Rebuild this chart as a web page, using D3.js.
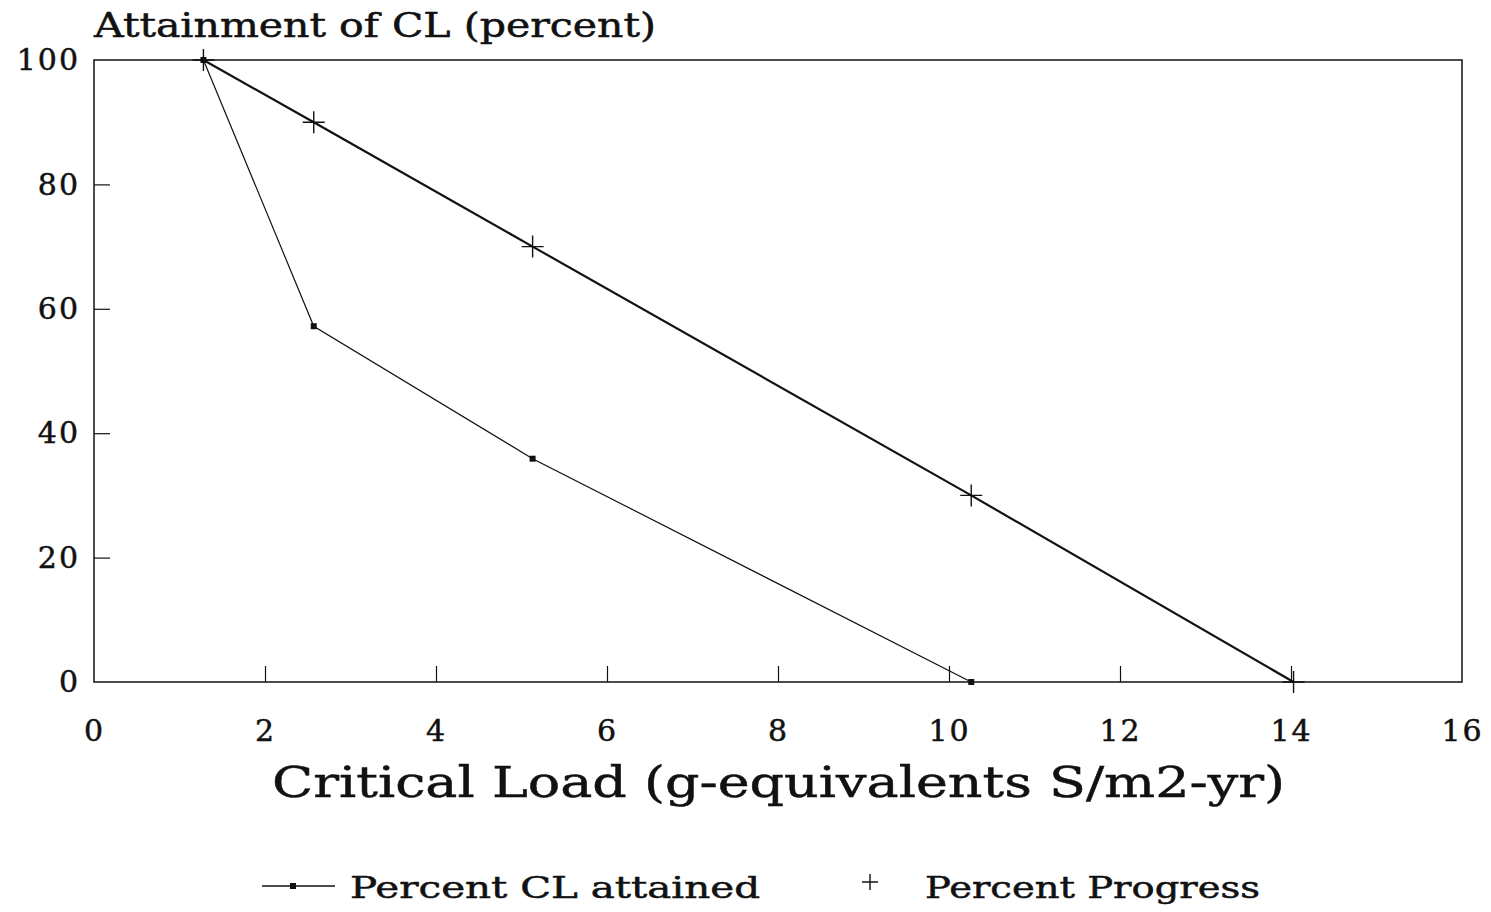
<!DOCTYPE html>
<html>
<head>
<meta charset="utf-8">
<script src="https://cdn.jsdelivr.net/npm/d3@7"></script>
<style>
  body { margin: 0; background: #fff; }
  text { font-family: "DejaVu Serif", serif; fill: #111; stroke: #111; stroke-width: 0.5px; }
</style>
</head>
<body>
<svg id="chart" width="1491" height="912"></svg>
<script>
// critical load (x) and percent values
const clLoads = [1.28, 2.57, 5.13, 10.26];
const clAttained = [100, 57.2, 35.9, 0];
const progLoads = [1.28, 2.57, 5.13, 10.26, 14.03];
const progPercent = [100, 90, 70, 30, 0];
const xTicks = [0, 2, 4, 6, 8, 10, 12, 14, 16];
const yTicks = [0, 20, 40, 60, 80, 100];

const svg = d3.select('#chart');
const x = d3.scaleLinear().domain([0, 16]).range([94, 1462]);
const y = d3.scaleLinear().domain([0, 100]).range([682, 60]);

// frame
svg.append('rect')
  .attr('x', x(0)).attr('y', y(100))
  .attr('width', x(16) - x(0)).attr('height', y(0) - y(100))
  .attr('fill', 'none').attr('stroke', '#111').attr('stroke-width', 1.5);

// inward ticks
const xAxis = d3.axisBottom(x).tickValues(xTicks).tickSize(-16).tickPadding(38).tickFormat(d3.format('d'));
const gx = svg.append('g').attr('transform', `translate(0,${y(0)})`).call(xAxis);
gx.select('.domain').remove();
gx.selectAll('.tick line').attr('stroke', '#111').attr('stroke-width', 1.2)
  .filter(d => d === 0 || d === 16).remove();
gx.selectAll('.tick text').attr('font-size', 30).attr('fill', '#111')
  .attr('font-family', '"DejaVu Serif", serif').attr('letter-spacing', 2);

const yAxis = d3.axisLeft(y).tickValues(yTicks).tickSize(-16).tickPadding(14).tickFormat(d3.format('d'));
const gy = svg.append('g').attr('transform', `translate(${x(0)},0)`).call(yAxis);
gy.select('.domain').remove();
gy.selectAll('.tick line').attr('stroke', '#111').attr('stroke-width', 1.2)
  .filter(d => d === 0 || d === 100).remove();
gy.selectAll('.tick text').attr('font-size', 30).attr('fill', '#111')
  .attr('font-family', '"DejaVu Serif", serif').attr('letter-spacing', 2);

// titles
svg.append('text').attr('x', 94).attr('y', 37).attr('font-size', 33)
  .attr('textLength', 562).attr('lengthAdjust', 'spacingAndGlyphs')
  .text('Attainment of CL (percent)');
svg.append('text').attr('x', 272).attr('y', 797).attr('font-size', 43)
  .attr('textLength', 1013).attr('lengthAdjust', 'spacingAndGlyphs')
  .text('Critical Load (g-equivalents S/m2-yr)');

const line = d3.line().x(d => x(d[0])).y(d => y(d[1]));
const clData = d3.zip(clLoads, clAttained);
const progData = d3.zip(progLoads, progPercent);

svg.append('path').datum(progData).attr('d', line)
  .attr('fill', 'none').attr('stroke', '#111').attr('stroke-width', 2.2);
svg.append('path').datum(clData).attr('d', line)
  .attr('fill', 'none').attr('stroke', '#111').attr('stroke-width', 1.2);

function cross(g, cx, cy, s) {
  g.append('path')
    .attr('d', `M${cx - s},${cy}H${cx + s}M${cx},${cy - s}V${cy + s}`)
    .attr('stroke', '#111').attr('stroke-width', 1.4).attr('fill', 'none');
}
const marks = svg.append('g');
progData.forEach(d => cross(marks, x(d[0]), y(d[1]), 11));
marks.selectAll('rect.cl').data(clData).join('rect')
  .attr('class', 'cl')
  .attr('x', d => x(d[0]) - 3).attr('y', d => y(d[1]) - 3)
  .attr('width', 6).attr('height', 6).attr('fill', '#111');

// legend
const lg = svg.append('g');
lg.append('line').attr('x1', 262).attr('x2', 335).attr('y1', 886).attr('y2', 886)
  .attr('stroke', '#111').attr('stroke-width', 1.4);
lg.append('rect').attr('x', 290).attr('y', 883).attr('width', 6).attr('height', 6).attr('fill', '#111');
lg.append('text').attr('x', 350).attr('y', 898).attr('font-size', 29)
  .attr('textLength', 410).attr('lengthAdjust', 'spacingAndGlyphs')
  .text('Percent CL attained');
cross(lg, 870, 882, 8);
lg.append('text').attr('x', 925).attr('y', 898).attr('font-size', 29)
  .attr('textLength', 335).attr('lengthAdjust', 'spacingAndGlyphs')
  .text('Percent Progress');
</script>
</body>
</html>
